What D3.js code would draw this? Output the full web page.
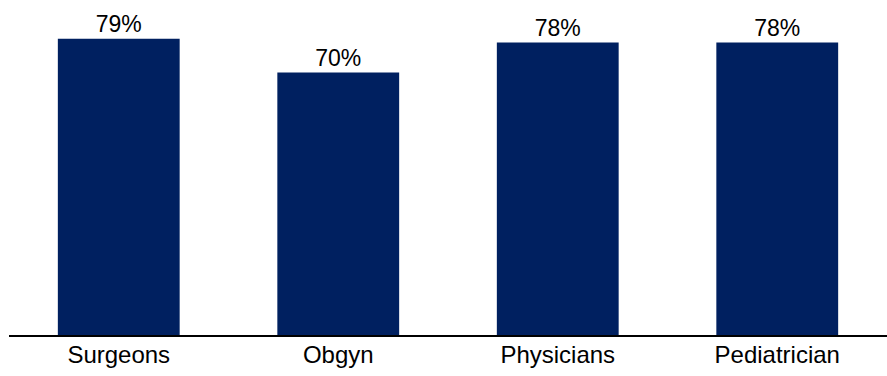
<!DOCTYPE html>
<html>
<head>
<meta charset="utf-8">
<script src="https://cdn.jsdelivr.net/npm/d3@7"></script>
<style>
  body { margin: 0; background: #fff; }
  svg { display: block; font-family: "Liberation Sans", Arial, sans-serif; }
</style>
</head>
<body>
<svg id="chart" width="887" height="376"></svg>
<script>
// Data
const categories = ["Surgeons", "Obgyn", "Physicians", "Pediatrician"];
const values = [79, 70, 78, 78];
const valueLabels = ["79%", "70%", "78%", "78%"];

(function drawChart() {
    const width = 887, height = 376;
    const margin = { top: 0, right: 0, bottom: 41, left: 9 };
    const baseY = height - margin.bottom; // 335

    const svg = d3.select("#chart");

    const x = d3.scaleBand()
        .domain(categories)
        .range([margin.left, width])
        .paddingInner(0.445)
        .paddingOuter(0.2225);

    const y = d3.scaleLinear()
        .domain([0, 100])
        .range([baseY, baseY - 375]);

    // bars
    svg.selectAll("rect.bar")
        .data(values)
        .enter().append("rect")
        .attr("class", "bar")
        .attr("x", (d, i) => x(categories[i]))
        .attr("y", d => y(d))
        .attr("width", x.bandwidth())
        .attr("height", d => y(0) - y(d))
        .attr("fill", "#002060");

    // value labels
    svg.selectAll("text.val")
        .data(values)
        .enter().append("text")
        .attr("class", "val")
        .attr("x", (d, i) => x(categories[i]) + x.bandwidth() / 2)
        .attr("y", d => y(d) - 7)
        .attr("text-anchor", "middle")
        .style("font-size", "23px")
        .attr("fill", "#000")
        .text((d, i) => valueLabels[i]);

    // x axis
    const xAxis = svg.append("g")
        .attr("transform", `translate(0,${baseY})`)
        .call(d3.axisBottom(x).tickSize(0).tickPadding(11));
    xAxis.select(".domain").remove();
    xAxis.selectAll("text")
        .style("font-size", "24px")
        .style("font-family", "\"Liberation Sans\", Arial, sans-serif")
        .attr("fill", "#000");

    // baseline
    svg.append("line")
        .attr("x1", margin.left)
        .attr("x2", width)
        .attr("y1", baseY + 1)
        .attr("y2", baseY + 1)
        .attr("stroke", "#000")
        .attr("stroke-width", 2);
})();
</script>
</body>
</html>
